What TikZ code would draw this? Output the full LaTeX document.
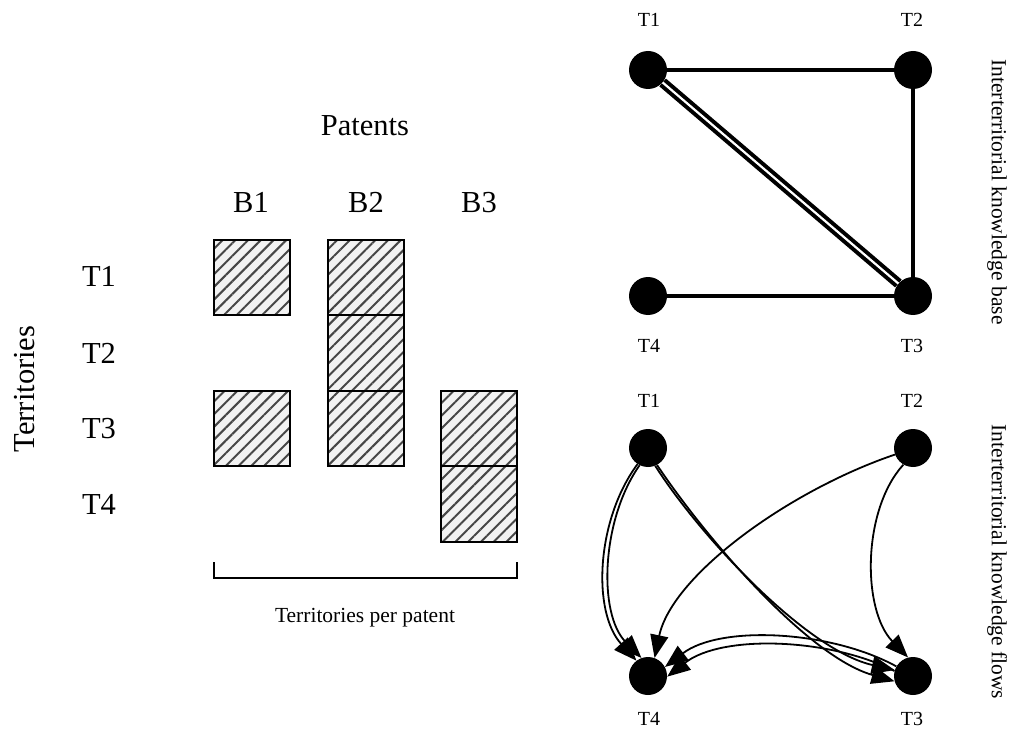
\documentclass[tikz,border=0pt]{standalone}
\usepackage{fontspec}
\setmainfont{Liberation Serif}
\usetikzlibrary{arrows.meta,patterns.meta}
\begin{document}
\begin{tikzpicture}[x=1pt,y=-1pt,
  cell/.style={draw=black,line width=1.6pt,preaction={fill=gray!10},
    pattern={Lines[angle=45,distance=9pt,line width=2pt]},pattern color=gray!55!black},
  big/.style={font=\fontsize{30.5}{33}\selectfont,inner sep=0pt,anchor=base},
  small/.style={font=\fontsize{20}{22}\selectfont,inner sep=0pt,anchor=base},
  side/.style={font=\fontsize{21.5}{24}\selectfont,inner sep=0pt,rotate=-90},
  dot/.style={circle,fill=black,minimum size=38pt,inner sep=0pt},
  kb/.style={line width=4pt},
  fl/.style={line width=1.8pt,-{Triangle[length=23pt,width=18pt]}}]
\useasboundingbox (0,0) rectangle (1012,730);
% left matrix
\node[big] (pat) at (365,136) {Patents};
\node[big] (b1) at (251,213) {B1};
\node[big] (b2) at (366,213) {B2};
\node[big] (b3) at (479,213) {B3};
\node[big] (t1) at (99,287) {T1};
\node[big] (t2) at (99,363) {T2};
\node[big] (t3) at (99,438) {T3};
\node[big] (t4) at (99,514) {T4};
\node[font=\fontsize{30.5}{33}\selectfont,inner sep=0pt,rotate=90] (terr) at (25,389) {Territories};
\path[cell] (214,240) rectangle (290,315);
\path[cell] (214,391) rectangle (290,466);
\path[cell] (328,240) rectangle (404,315);
\path[cell] (328,315) rectangle (404,391);
\path[cell] (328,391) rectangle (404,466);
\path[cell] (441,391) rectangle (517,466);
\path[cell] (441,466) rectangle (517,542);
\coordinate (bl) at (214,562);
\coordinate (br) at (517,562);
\draw[line width=1.6pt] (bl) -- ++(0,16) -| (br);
\node[font=\fontsize{21.5}{24}\selectfont,inner sep=0pt,anchor=base] (tpp) at (365,622) {Territories per patent};
% top graph
\node[dot] (a1) at (648,70) {};
\node[dot] (a2) at (913,70) {};
\node[dot] (a3) at (913,296) {};
\node[dot] (a4) at (648,296) {};
\node[small] (la1) at (649,27) {T1};
\node[small] (la2) at (912,27) {T2};
\node[small] (la3) at (912,352) {T3};
\node[small] (la4) at (649,352) {T4};
\draw[kb] (a1) -- (a2);
\draw[kb] (a2) -- (a3);
\draw[kb] (a4) -- (a3);
\draw[line width=4pt,double=white,double distance=2.2pt] (a1) -- (a3);
\node[side] (kbase) at (997,192) {Interterritorial knowledge base};
% bottom graph
\node[dot] (c1) at (648,448) {};
\node[dot] (c2) at (913,448) {};
\node[dot] (c3) at (913,676) {};
\node[dot] (c4) at (648,676) {};
\node[small] (lc1) at (649,407) {T1};
\node[small] (lc2) at (912,407) {T2};
\node[small] (lc3) at (912,725) {T3};
\node[small] (lc4) at (649,725) {T4};
% T1 -> T4 (two)
\draw[fl] (c1.237) .. controls (596,520) and (592,612) .. (c4.127);
\draw[fl] (c1.244) .. controls (601,520) and (598,614) .. (c4.110);
% T1 -> T3 (two)
\draw[fl] (c1.292) .. controls (700,536) and (806,650) .. (c3.162);
\draw[fl] (c1.298) .. controls (703,534) and (806,656) .. (c3.196);
% T3 -> T4 (two)
\draw[fl] (c3.150) .. controls (830,630) and (720,625) .. (c4.28);
\draw[fl] (c3.165) .. controls (830,638) and (722,634) .. (c4.358);
% T2 -> T4
\draw[fl] (c2.200) .. controls (790,490) and (672,575) .. (c4.70);
% T2 -> T3
\draw[fl] (c2.240) .. controls (862,510) and (862,610) .. (c3.105);
\node[side] (kflow) at (997,562) {Interterritorial knowledge flows};
\end{tikzpicture}
\end{document}
